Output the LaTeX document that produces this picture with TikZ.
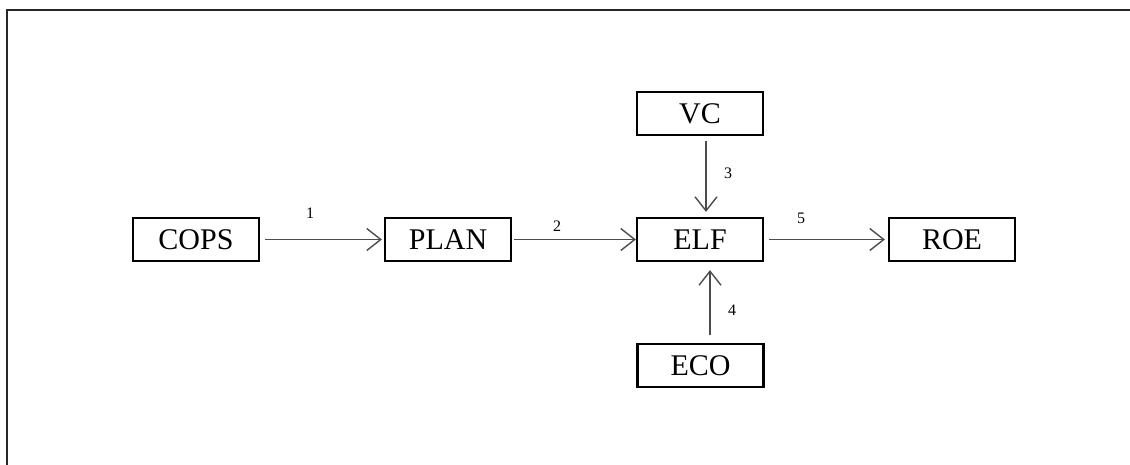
\documentclass[tikz,border=0pt]{standalone}
\usepackage{fontspec}
\setmainfont{Liberation Serif}
\usetikzlibrary{arrows.meta,calc}
\begin{document}
\begin{tikzpicture}[x=1pt,y=-1pt,
  blk/.style={draw=black,line width=2.2pt,minimum width=126pt,minimum height=43pt,inner sep=0pt,
    font=\fontsize{30}{34}\selectfont},
  conn/.style={draw=black!70,line width=1.4pt,-{Straight Barb[length=14pt,width=22pt,line width=1.4pt]}},
  lbl/.style={font=\fontsize{16}{18}\selectfont,inner sep=0pt}]
\useasboundingbox (0,0) rectangle (1130,464);
\coordinate (fbl) at (7,470);
\coordinate (ftl) at (7,10);
\coordinate (ftr) at (1136,10);
\draw[line width=2.2pt,black!85] (fbl) -- (ftl) -- (ftr);

\node[blk] (cops) at (196,239.5) {COPS};
\node[blk] (plan) at (448,239.5) {PLAN};
\node[blk] (elf)  at (700,239.5) {ELF};
\node[blk] (vc)   at (700,113.5) {VC};
\node[blk] (eco)  at (700.5,365.5) {ECO};
\node[blk] (roe)  at (952,239.5) {ROE};

\draw[conn,shorten <=5pt,shorten >=2pt] (cops.east) -- (plan.west);
\draw[conn,shorten <=2pt,shorten >=0pt] (plan.east) -- (elf.west);
\draw[conn,shorten <=5pt,shorten >=5pt] ([xshift=6pt]vc.south) -- ([xshift=6pt]elf.north);
\draw[conn,shorten <=8pt,shorten >=8pt] ([xshift=9.5pt]eco.north) -- ([xshift=10pt]elf.south);
\draw[conn,shorten <=5pt,shorten >=3pt] (elf.east) -- (roe.west);

\node[lbl] (l1) at (310,213) {1};
\node[lbl] (l2) at (557,226) {2};
\node[lbl] (l3) at (728,173) {3};
\node[lbl] (l4) at (732,310) {4};
\node[lbl] (l5) at (801,218) {5};
\end{tikzpicture}
\end{document}
